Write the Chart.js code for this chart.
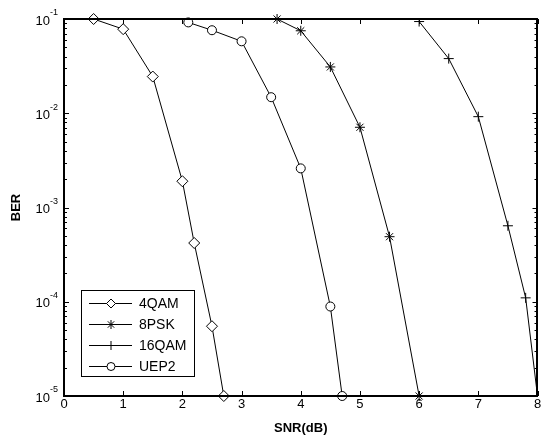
<!DOCTYPE html>
<html>
<head>
<meta charset="utf-8">
<script src="https://cdn.jsdelivr.net/npm/chart.js@4/dist/chart.umd.min.js"></script>
<style>
  body { margin: 0; background: #fff; }
  canvas { display: block; }
</style>
</head>
<body>
<canvas id="berChart" width="544" height="438"></canvas>
<script>
// values
const qam4X = [0.5, 1, 1.5, 2, 2.2, 2.5, 2.7];
const qam4Y = [1e-1, 7.8e-2, 2.45e-2, 1.9e-3, 4.2e-4, 5.5e-5, 1e-5];

const psk8X = [3.6, 4, 4.5, 5, 5.5, 6];
const psk8Y = [1e-1, 7.5e-2, 3.1e-2, 7.1e-3, 4.9e-4, 1e-5];

const qam16X = [6, 6.5, 7, 7.5, 7.8, 8];
const qam16Y = [9.4e-2, 3.8e-2, 9.2e-3, 6.4e-4, 1.1e-4, 1e-5];

const uep2X = [2.1, 2.5, 3, 3.5, 4, 4.5, 4.7];
const uep2Y = [9.2e-2, 7.6e-2, 5.8e-2, 1.48e-2, 2.6e-3, 8.9e-5, 1e-5];

const seriesNames = ['4QAM', '8PSK', '16QAM', 'UEP2'];
const xTicks = [0, 1, 2, 3, 4, 5, 6, 7, 8];
const yDecades = [-5, -4, -3, -2, -1];

const FONT = '"Liberation Sans", Arial, sans-serif';

function pts(xs, ys) {
  return xs.map((x, i) => ({ x: x, y: ys[i] }));
}

function series(label, xs, ys, style, radius) {
  return {
    label: label,
    data: pts(xs, ys),
    borderColor: '#000',
    borderWidth: 1,
    pointStyle: style,
    pointRadius: radius,
    pointBackgroundColor: '#fff',
    pointBorderColor: '#000',
    pointBorderWidth: 1,
    tension: 0,
    clip: false
  };
}

const datasets = [
  series(seriesNames[0], qam4X, qam4Y, 'rectRot', 5.5),
  series(seriesNames[1], psk8X, psk8Y, 'star', 5),
  series(seriesNames[2], qam16X, qam16Y, 'cross', 5),
  series(seriesNames[3], uep2X, uep2Y, 'circle', 4.5)
];
datasets[2].clip = 0;

// box, inside ticks, superscript y labels and the legend
const matlabAxes = {
  id: 'matlabAxes',
  afterDraw(chart) {
    const ctx = chart.ctx;
    const a = chart.chartArea;
    const xs = chart.scales.x;
    const ys = chart.scales.y;
    ctx.save();
    ctx.strokeStyle = '#000';
    ctx.lineWidth = 2;
    ctx.strokeRect(Math.round(a.left), Math.round(a.top),
      Math.round(a.right - a.left) - 1, Math.round(a.bottom - a.top));

    ctx.lineWidth = 1;
    ctx.beginPath();
    xTicks.forEach(v => {
      const px = Math.round(xs.getPixelForValue(v)) + 0.5;
      ctx.moveTo(px, a.bottom); ctx.lineTo(px, a.bottom - 5);
      ctx.moveTo(px, a.top); ctx.lineTo(px, a.top + 5);
    });
    yDecades.forEach(e => {
      for (let m = 1; m <= 9; m++) {
        if (e === -1 && m > 1) break;
        const py = Math.round(ys.getPixelForValue(m * Math.pow(10, e))) + 0.5;
        const len = m === 1 ? 5 : 3;
        ctx.moveTo(a.left, py); ctx.lineTo(a.left + len, py);
        ctx.moveTo(a.right, py); ctx.lineTo(a.right - len, py);
      }
    });
    ctx.stroke();

    ctx.fillStyle = '#000';
    ctx.textBaseline = 'middle';
    yDecades.forEach(e => {
      const py = ys.getPixelForValue(Math.pow(10, e));
      ctx.font = '13px ' + FONT;
      ctx.textAlign = 'right';
      ctx.fillText('10', a.left - 14, py + 2);
      ctx.font = '9px ' + FONT;
      ctx.textAlign = 'left';
      ctx.fillText(String(e), a.left - 14, py - 6);
    });

    // legend
    const lx = 81.5, ly = 290.5, lw = 113, lh = 86;
    ctx.fillStyle = '#fff';
    ctx.fillRect(lx, ly, lw, lh);
    ctx.strokeRect(lx, ly, lw, lh);
    chart.data.datasets.forEach((ds, i) => {
      const rowY = 303 + i * 21;
      ctx.strokeStyle = '#000';
      ctx.beginPath();
      ctx.moveTo(89, rowY + 0.5); ctx.lineTo(132, rowY + 0.5);
      ctx.stroke();
      ctx.fillStyle = '#fff';
      Chart.helpers.drawPoint(ctx, {
        pointStyle: ds.pointStyle,
        radius: ds.pointStyle === 'rectRot' ? 4.5 : ds.pointRadius - 0.5,
        rotation: 0,
        borderWidth: 1
      }, 111, rowY + 0.5);
      ctx.fillStyle = '#000';
      ctx.font = '14px ' + FONT;
      ctx.textAlign = 'left';
      ctx.textBaseline = 'middle';
      ctx.fillText(ds.label, 139, rowY + 1);
    });
    ctx.restore();
  }
};

new Chart(document.getElementById('berChart').getContext('2d'), {
  type: 'line',
  data: { datasets: datasets },
  options: {
    responsive: false,
    animation: false,
    layout: { padding: { top: 19, right: 1, left: 0, bottom: 0 } },
    plugins: {
      legend: { display: false },
      tooltip: { enabled: false }
    },
    scales: {
      x: {
        type: 'linear',
        min: 0,
        max: 8,
        grid: { display: false },
        border: { display: false },
        ticks: {
          stepSize: 1,
          color: '#000',
          padding: -7,
          font: { family: FONT, size: 13 }
        },
        title: {
          display: true,
          text: 'SNR(dB)',
          color: '#000',
          padding: { top: 0, bottom: 2 },
          font: { family: FONT, size: 13, weight: 'bold' }
        },
        afterFit(scale) {
          scale.height = 42;
          scale.paddingLeft = 0;
          scale.paddingRight = 0;
        }
      },
      y: {
        type: 'logarithmic',
        min: 1e-5,
        max: 1e-1,
        grid: { display: false },
        border: { display: false },
        ticks: { callback: () => '' },
        title: {
          display: true,
          text: 'BER',
          color: '#000',
          padding: { top: 9, bottom: 0 },
          font: { family: FONT, size: 13, weight: 'bold' }
        },
        afterFit(scale) {
          scale.width = 64;
          scale.paddingTop = 0;
          scale.paddingBottom = 0;
        }
      }
    }
  },
  plugins: [matlabAxes]
});
</script>
</body>
</html>
